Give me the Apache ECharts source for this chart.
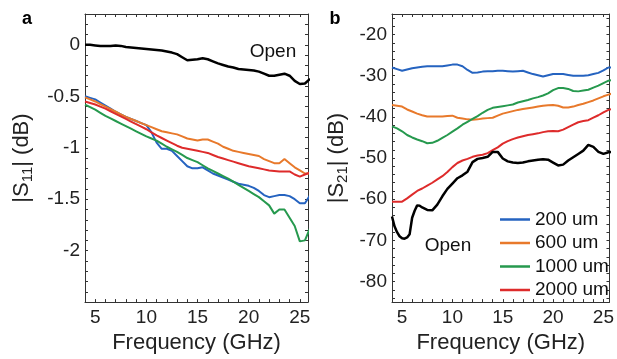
<!DOCTYPE html>
<html><head><meta charset="utf-8">
<script src="https://cdn.jsdelivr.net/npm/echarts@6/dist/echarts.min.js"></script>
<style>html,body{margin:0;padding:0;background:#fff}#c{width:617px;height:359px}</style>
</head><body><div id="c"></div>
<script>
// ---------- data ----------
const freq = [4,4.5,5,5.5,6,6.5,7,7.5,8,8.5,9,9.5,10,10.5,11,11.5,12,12.5,13,13.5,14,14.5,15,15.5,16,16.5,17,17.5,18,18.5,19,19.5,20,20.5,21,21.5,22,22.5,23,23.5,24,24.5,25,25.5,26];

// Panel a: |S11| (dB)
const s11Open = [0.00,0.00,-0.005,-0.01,-0.01,-0.01,-0.005,-0.01,-0.02,-0.025,-0.03,-0.035,-0.04,-0.045,-0.05,-0.055,-0.065,-0.075,-0.09,-0.12,-0.15,-0.145,-0.14,-0.13,-0.14,-0.16,-0.18,-0.195,-0.21,-0.22,-0.235,-0.24,-0.245,-0.25,-0.26,-0.28,-0.30,-0.30,-0.29,-0.28,-0.30,-0.35,-0.38,-0.375,-0.33];
const s11_200 = [-0.50,-0.515,-0.53,-0.56,-0.59,-0.62,-0.65,-0.675,-0.70,-0.72,-0.74,-0.76,-0.78,-0.85,-0.95,-1.01,-1.01,-1.03,-1.08,-1.13,-1.18,-1.20,-1.20,-1.19,-1.22,-1.25,-1.27,-1.29,-1.31,-1.33,-1.35,-1.36,-1.37,-1.39,-1.42,-1.46,-1.48,-1.47,-1.46,-1.46,-1.47,-1.50,-1.54,-1.54,-1.46];
const s11_600 = [-0.51,-0.53,-0.55,-0.575,-0.60,-0.625,-0.65,-0.675,-0.70,-0.72,-0.74,-0.76,-0.78,-0.80,-0.82,-0.84,-0.85,-0.86,-0.87,-0.89,-0.91,-0.92,-0.93,-0.92,-0.92,-0.94,-0.96,-0.99,-1.01,-1.03,-1.04,-1.05,-1.06,-1.07,-1.08,-1.11,-1.13,-1.15,-1.15,-1.11,-1.15,-1.19,-1.22,-1.25,-1.25];
const s11_1000 = [-0.58,-0.605,-0.63,-0.66,-0.69,-0.715,-0.74,-0.765,-0.79,-0.815,-0.84,-0.865,-0.89,-0.91,-0.93,-0.96,-0.99,-1.015,-1.04,-1.07,-1.10,-1.12,-1.14,-1.17,-1.20,-1.225,-1.25,-1.275,-1.30,-1.33,-1.36,-1.39,-1.42,-1.45,-1.48,-1.52,-1.56,-1.64,-1.60,-1.60,-1.68,-1.76,-1.91,-1.90,-1.78];
const s11_2000 = [-0.55,-0.565,-0.58,-0.60,-0.62,-0.645,-0.67,-0.695,-0.72,-0.745,-0.77,-0.795,-0.82,-0.85,-0.88,-0.905,-0.93,-0.955,-0.98,-1.00,-1.01,-1.02,-1.03,-1.04,-1.05,-1.07,-1.09,-1.105,-1.12,-1.135,-1.15,-1.165,-1.18,-1.19,-1.20,-1.21,-1.22,-1.225,-1.23,-1.23,-1.23,-1.26,-1.28,-1.26,-1.24];

// Panel b: |S21| (dB)
const s21_200 = [-28.0,-28.4,-28.8,-28.5,-28.2,-28.0,-27.8,-27.7,-27.7,-27.7,-27.7,-27.5,-27.3,-27.3,-27.7,-28.6,-29.3,-29.2,-29.0,-28.9,-28.9,-28.8,-28.8,-28.9,-29.0,-28.9,-28.8,-29.2,-29.6,-29.9,-30.2,-29.9,-29.6,-29.6,-29.6,-29.8,-30.0,-30.0,-30.0,-29.9,-29.6,-29.3,-28.7,-28.0,-28.0];
const s21_600 = [-37.1,-37.3,-37.5,-38.2,-38.7,-39.2,-39.6,-39.9,-39.9,-39.9,-39.9,-39.8,-39.7,-40.2,-40.4,-40.6,-40.7,-40.6,-40.4,-40.3,-40.2,-39.7,-39.2,-38.9,-38.6,-38.3,-38.1,-37.9,-37.7,-37.5,-37.3,-37.2,-37.1,-37.3,-37.7,-37.7,-37.5,-37.1,-36.8,-36.4,-36.0,-35.5,-35.0,-34.6,-34.2];
const s21_1000 = [-42.3,-42.8,-43.5,-44.4,-45.0,-45.5,-45.9,-46.4,-46.3,-45.8,-45.1,-44.4,-43.6,-42.8,-41.9,-41.2,-40.5,-39.8,-39.0,-38.3,-37.8,-37.6,-37.4,-37.2,-37.0,-36.5,-36.2,-35.9,-35.5,-35.2,-34.8,-34.3,-33.5,-33.0,-33.0,-33.2,-33.7,-33.8,-33.6,-33.4,-32.9,-32.4,-31.8,-31.2,-31.0];
const s21_2000 = [-60.6,-60.6,-60.6,-59.8,-58.9,-58.0,-57.4,-56.7,-56.0,-55.2,-54.4,-53.4,-52.2,-51.2,-50.6,-50.2,-49.7,-49.4,-49.2,-48.8,-48.1,-47.4,-46.5,-45.9,-45.4,-45.0,-44.7,-44.4,-44.2,-44.0,-43.7,-43.5,-43.4,-43.5,-43.1,-42.5,-41.9,-41.3,-41.0,-40.8,-40.2,-39.6,-38.9,-38.3,-38.0];
const freqOpenB = [4,4.25,4.5,4.75,5,5.25,5.5,5.75,6,6.25,6.5,6.75,7,7.5,8,8.5,9,9.5,10,10.5,11,11.5,12,12.5,13,13.5,14,14.5,15,15.5,16,16.5,17,17.5,18,18.5,19,19.5,20,20.5,21,21.5,22,22.5,23,23.5,24,24.5,25,25.5,26];
const s21Open = [-64.2,-66.6,-68.0,-69.0,-69.5,-69.6,-69.3,-68.5,-64.5,-62.8,-61.5,-61.6,-62.0,-62.6,-62.7,-61.3,-59.3,-57.5,-56.2,-54.9,-54.2,-53.3,-51.0,-50.2,-50.0,-49.7,-48.5,-48.5,-50.1,-50.8,-51.1,-51.2,-51.1,-50.8,-50.6,-50.4,-50.3,-50.4,-51.1,-51.8,-51.6,-50.6,-49.8,-49.0,-48.2,-46.8,-47.3,-48.5,-49.0,-48.6,-48.5];

const seriesNames = ['200 um','600 um','1000 um','2000 um'];
const colors = ['#2563c0','#e8792b','#26994e','#de2b2b'];
const xLabelsA = [5,10,15,20,25];
const yLabelsA = [-2,-1.5,-1,-0.5,0];
const yLabelsB = [-80,-70,-60,-50,-40,-30,-20];

// ---------- chart ----------
const FONT = 'Liberation Sans, Arial, sans-serif';
const pairs = (xs, ys) => xs.map((x,i)=>[x, ys[i]]);
const ticksX = []; for (let v=4; v<=26; v++) ticksX.push(v);
const ticksYA = []; for (let v=-25; v<=3; v++) ticksYA.push(v/10);
const ticksYB = []; for (let v=-84; v<=-16; v+=2) ticksYB.push(v);

const lineCol = '#333';
function xAx(grid, max, top){
  return {
    type:'value', gridIndex:grid, min:4, max:max, position: top?'top':'bottom',
    axisLine:{show:true, onZero:false, lineStyle:{color:lineCol, width:1}},
    axisTick:{show:true, inside:true, length:3, customValues:ticksX, lineStyle:{color:lineCol}},
    axisLabel: top ? {show:false} : {show:true, customValues:xLabelsA, fontSize:19, color:'#222', fontFamily:FONT, margin:6},
    splitLine:{show:false},
    name: top ? '' : 'Frequency (GHz)', nameLocation:'middle', nameGap:26,
    nameTextStyle:{fontSize:22, color:'#222', fontFamily:FONT}
  };
}
function yAx(grid, min, max, ticks, labels, right, name, gap){
  return {
    type:'value', gridIndex:grid, min:min, max:max, position: right?'right':'left',
    axisLine:{show:true, onZero:false, lineStyle:{color:lineCol, width:1}},
    axisTick:{show:true, inside:true, length:3, customValues:ticks, lineStyle:{color:lineCol}},
    axisLabel: right ? {show:false} : {show:true, customValues:labels, fontSize:19, color:'#222', fontFamily:FONT, margin:5},
    splitLine:{show:false},
    name: right ? '' : name, nameLocation:'middle', nameGap:gap, nameRotate:90,
    nameTextStyle:{fontSize:22, color:'#222', fontFamily:FONT, lineHeight:26,
      rich:{sub:{fontSize:15, fontFamily:FONT, color:'#222', verticalAlign:'bottom', lineHeight:14}}}
  };
}
function ln(name, xi, yi, data, color, w){
  return {type:'line', name:name, xAxisIndex:xi, yAxisIndex:yi, data:data, showSymbol:false, symbol:'none',
    clip:true, lineStyle:{color:color, width:w}, itemStyle:{color:color}, animation:false};
}

const chart = echarts.init(document.getElementById('c'), null, {renderer:'canvas'});
const sA = [s11_200, s11_600, s11_1000, s11_2000];
const sB = [s21_200, s21_600, s21_1000, s21_2000];
const series = [];
series.push(ln('Open a', 0, 0, pairs(freq, s11Open), '#000', 2.5));
sA.forEach((s,i)=>series.push(ln(seriesNames[i], 0, 0, pairs(freq, s), colors[i], 2)));
sB.forEach((s,i)=>series.push(ln(seriesNames[i], 2, 2, pairs(freq, s), colors[i], 2)));
series.push(ln('Open b', 2, 2, pairs(freqOpenB, s21Open), '#000', 2.5));

chart.setOption({
  animation:false,
  backgroundColor:'#fff',
  grid:[
    {left:85, top:14, width:223, height:292},
    {left:392, top:14, width:222, height:292}
  ],
  xAxis:[xAx(0,25.8,false), xAx(0,25.8,true), xAx(1,25.6,false), xAx(1,25.6,true)],
  yAxis:[
    yAx(0,-2.5,0.3,ticksYA,yLabelsA,false,'|S{sub|11}| (dB)',50),
    yAx(0,-2.5,0.3,ticksYA,yLabelsA,true,'',0),
    yAx(1,-85,-15,ticksYB,yLabelsB,false,'|S{sub|21}| (dB)',42),
    yAx(1,-85,-15,ticksYB,yLabelsB,true,'',0)
  ],
  legend:{
    data:seriesNames, orient:'vertical', left:495, top:205,
    icon:'rect', itemWidth:30, itemHeight:2.5, itemGap:4.5,
    textStyle:{fontSize:19, color:'#111', fontFamily:FONT}, selectedMode:false
  },
  graphic:[
    {type:'text', x:27, y:19, style:{text:'a', fontSize:18, fontWeight:'bold', fontFamily:FONT, fill:'#000', align:'center', verticalAlign:'middle'}},
    {type:'text', x:335, y:19, style:{text:'b', fontSize:18, fontWeight:'bold', fontFamily:FONT, fill:'#000', align:'center', verticalAlign:'middle'}},
    {type:'text', x:273, y:52, style:{text:'Open', fontSize:19, fontFamily:FONT, fill:'#111', align:'center', verticalAlign:'middle'}},
    {type:'text', x:448, y:246, style:{text:'Open', fontSize:19, fontFamily:FONT, fill:'#111', align:'center', verticalAlign:'middle'}}
  ],
  series:series
});
</script>
</body></html>
